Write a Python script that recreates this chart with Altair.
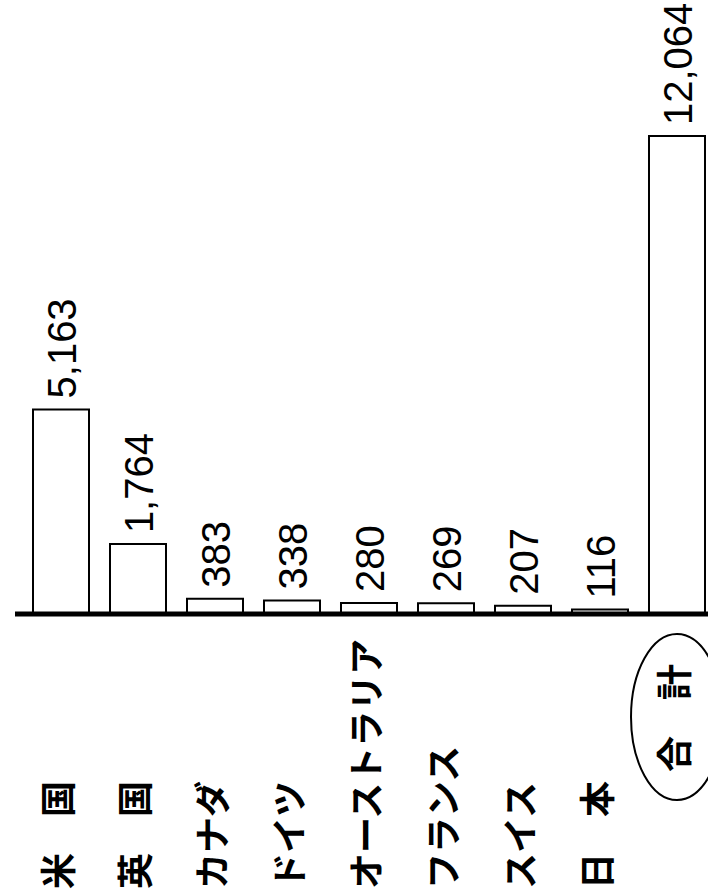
import altair as alt
import pandas as pd

countries = ["米　国", "英　国", "カナダ", "ドイツ", "オーストラリア", "フランス", "スイス", "日　本", "合　計"]
values = [5163, 1764, 383, 338, 280, 269, 207, 116, 12064]
value_labels = ["5,163", "1,764", "383", "338", "280", "269", "207", "116", "12,064"]
is_total = [False, False, False, False, False, False, False, False, True]

df = pd.DataFrame({"country": countries, "value": values, "label": value_labels, "total": is_total})

x = alt.X("country:N", sort=countries, axis=None,
          scale=alt.Scale(range=[0, 738], paddingInner=0.2727, paddingOuter=0.4286))
y = alt.Y("value:Q", axis=None, scale=alt.Scale(domain=[0, 15500], nice=False, zero=True))

base = alt.Chart(df)

bars = base.mark_bar(fill="white", stroke="black", strokeWidth=2).encode(x=x, y=y)

rule = alt.Chart(pd.DataFrame({"v": [0]})).mark_rule(color="black", strokeWidth=5).encode(
    y=alt.Y("v:Q", scale=alt.Scale(domain=[0, 15500], nice=False), axis=None),
    x=alt.value(15), x2=alt.value(708))

vtext = base.mark_text(angle=270, align="left", baseline="middle", dx=11, dy=3,
                       font="Liberation Sans", fontSize=40, color="black").encode(
    x=x, y=y, text="label:N")

clabels = base.transform_filter("!datum.total").mark_text(
    angle=270, align="left", baseline="middle", font="Noto Sans CJK JP",
    fontSize=36, fontWeight="bold", color="black").encode(
    x=x, y=alt.value(889), text="country:N")

tlabel = base.transform_filter("datum.total").mark_text(
    angle=270, align="center", baseline="middle", font="Noto Sans CJK JP",
    fontSize=36, fontWeight="bold", color="black").encode(
    x=x, y=alt.value(718), text="country:N")

ELLIPSE = "M 0 -1 A 0.554 1 0 1 1 0 1 A 0.554 1 0 1 1 0 -1 Z"
ellipse = base.transform_filter("datum.total").mark_point(
    shape=ELLIPSE, size=27556, filled=False, stroke="black", strokeWidth=2, opacity=1).encode(
    x=x, y=alt.value(717))

chart = alt.layer(bars, rule, vtext, clabels, tlabel, ellipse).properties(
    width=708, height=614,
    autosize=alt.AutoSizeParams(type="none"),
    padding={"left": 0, "top": 0, "right": 0, "bottom": 282},
    background="white",
).configure_view(stroke=None)

chart.save("out.html", embed_options={"renderer": "svg", "actions": False})
